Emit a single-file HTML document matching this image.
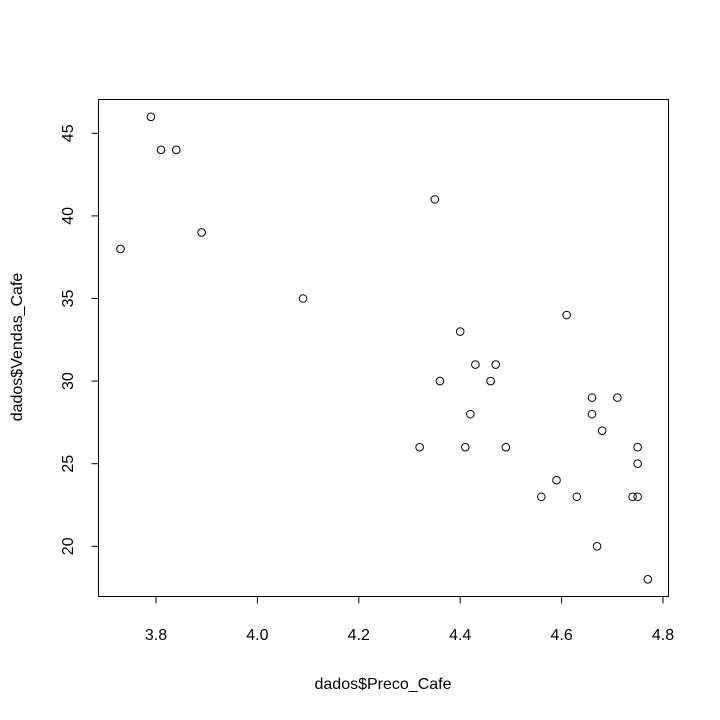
<!DOCTYPE html>
<html>
<head>
<meta charset="utf-8">
<style>
html,body{margin:0;padding:0;background:#fff;}
svg{display:block;font-family:"Liberation Sans",Arial,sans-serif;}
</style>
</head>
<body>
<svg id="chart" width="720" height="720" viewBox="0 0 720 720">
<rect x="98.5" y="99.5" width="570" height="497" fill="none" stroke="#000" stroke-width="1"/>
<g id="xaxis"></g>
<g id="yaxis"></g>
<g id="points"></g>
<text x="383" y="689" font-size="16" text-anchor="middle">dados$Preco_Cafe</text>
<text transform="translate(22,347) rotate(-90)" font-size="16" text-anchor="middle">dados$Vendas_Cafe</text>
</svg>
<script>
const xTicks = [3.8, 4.0, 4.2, 4.4, 4.6, 4.8];
const xTickLabels = ["3.8", "4.0", "4.2", "4.4", "4.6", "4.8"];
const yTicks = [20, 25, 30, 35, 40, 45];
const yTickLabels = ["20", "25", "30", "35", "40", "45"];
const precoCafe = [3.73,3.79,3.81,3.84,3.89,4.09,4.35,4.32,4.36,4.40,4.41,4.42,4.43,4.46,4.47,4.49,4.56,4.59,4.61,4.63,4.66,4.66,4.67,4.68,4.71,4.74,4.75,4.75,4.75,4.77];
const vendasCafe = [38,46,44,44,39,35,41,26,30,33,26,28,31,30,31,26,23,24,34,23,29,28,20,27,29,23,26,25,23,18];

const NS = "http://www.w3.org/2000/svg";
function sx(v){ return 156 + (v - 3.8) * 507; }
function sy(v){ return 546.3 - (v - 20) * 16.52; }
function mk(tag, attrs, parent){ const e = document.createElementNS(NS, tag); for (const k in attrs) e.setAttribute(k, attrs[k]); parent.appendChild(e); return e; }

const xg = document.getElementById("xaxis");
mk("line", {x1: sx(xTicks[0]), x2: sx(xTicks[xTicks.length-1]), y1: 596.5, y2: 596.5, stroke: "#000"}, xg);
xTicks.forEach((t, i) => {
  const l = mk("line", {x1: sx(t), x2: sx(t), y1: 596.5, y2: 603.5, stroke: "#000"}, xg);
  
  
  const tx = mk("text", {x: sx(t), y: 640, "font-size": 16, "text-anchor": "middle"}, xg);
  tx.textContent = xTickLabels[i];
  
  
});

const yg = document.getElementById("yaxis");
mk("line", {x1: 98.5, x2: 98.5, y1: sy(yTicks[0]), y2: sy(yTicks[yTicks.length-1]), stroke: "#000"}, yg);
yTicks.forEach((t, i) => {
  const l = mk("line", {x1: 91.5, x2: 98.5, y1: sy(t), y2: sy(t), stroke: "#000"}, yg);
  
  
  const tx = mk("text", {transform: `translate(73,${sy(t)}) rotate(-90)`, "font-size": 16, "text-anchor": "middle"}, yg);
  tx.textContent = yTickLabels[i];
  
  
});

const pg = document.getElementById("points");
precoCafe.forEach((x, i) => {
  const c = mk("circle", {cx: sx(x), cy: sy(vendasCafe[i]), r: 3.8, fill: "none", stroke: "#000", "stroke-width": 1}, pg);
  
  
});
</script>
</body>
</html>
